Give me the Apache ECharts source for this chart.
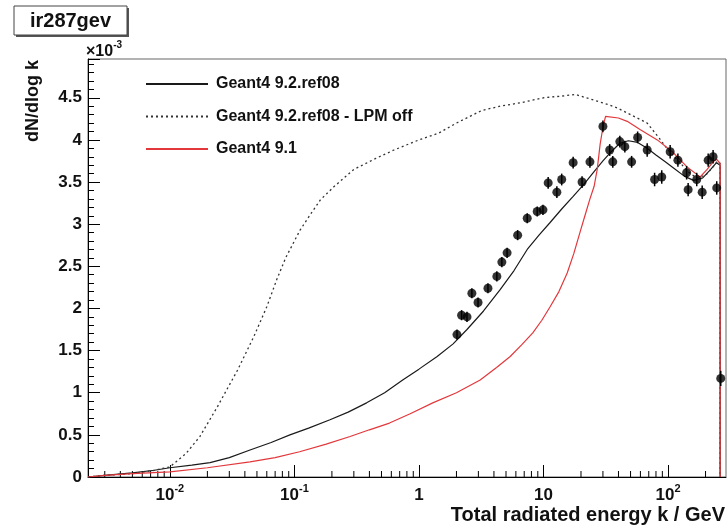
<!DOCTYPE html>
<html>
<head>
<meta charset="utf-8">
<script src="https://cdn.jsdelivr.net/npm/echarts@6/dist/echarts.min.js"></script>
<style>
html,body{margin:0;padding:0;background:#fff;}
#chart{width:728px;height:527px;}
</style>
</head>
<body>
<div id="chart"></div>
<script>
// ---- data (y values in units of 1e-3) ----
const kRef08 = [0.0022,0.003,0.005,0.0075,0.01,0.015,0.021,0.03,0.044,0.065,0.092,0.13,0.193,0.27,0.38,0.53,0.74,1.0,1.4,1.88,2.43,3.3,4.47,5.8,7.4,9.2,11.3,14,17.3,21,25,30,35,41,48,57,68,80,95,112,135,160,190,220,245,262,262];
const vRef08 = [0.0,0.02,0.05,0.08,0.11,0.14,0.17,0.23,0.32,0.41,0.5,0.58,0.68,0.77,0.88,1.0,1.15,1.28,1.43,1.58,1.75,1.97,2.22,2.45,2.7,2.87,3.02,3.18,3.33,3.47,3.61,3.75,3.86,3.96,3.99,3.97,3.9,3.82,3.74,3.66,3.57,3.52,3.55,3.65,3.73,3.7,0];

const kLpmOff = [0.0022,0.003,0.005,0.0075,0.01,0.0135,0.0174,0.024,0.035,0.047,0.06,0.072,0.085,0.111,0.135,0.162,0.206,0.3,0.45,0.63,1.0,1.44,2.0,2.57,3.2,4.5,6.5,10,14,18,22,27,33,39,50,68,85,100,120,145,170,200,230,250,262,262];
const vLpmOff = [0,0.02,0.04,0.08,0.12,0.28,0.48,0.83,1.27,1.66,2.02,2.34,2.6,2.93,3.12,3.29,3.44,3.65,3.78,3.88,4.0,4.08,4.2,4.28,4.35,4.4,4.44,4.5,4.52,4.54,4.5,4.46,4.42,4.38,4.3,4.2,4.02,3.88,3.76,3.62,3.55,3.58,3.68,3.75,3.72,0];

const kG491 = [0.0022,0.003,0.005,0.01,0.02,0.044,0.07,0.11,0.18,0.28,0.4,0.58,0.85,1.29,2.0,3.1,4.2,5.4,6.7,8.2,9.7,11.3,13.3,15.5,17.5,19.6,21.5,23.6,25.5,27,28.5,30,31.5,40,47,60,82,110,142,181,206,230,246,262,262];
const vG491 = [0,0.02,0.04,0.06,0.11,0.18,0.23,0.3,0.39,0.48,0.56,0.64,0.75,0.88,1.0,1.15,1.3,1.43,1.57,1.71,1.86,2.02,2.2,2.42,2.65,2.9,3.1,3.3,3.45,3.65,3.95,4.15,4.28,4.26,4.22,4.12,4.0,3.85,3.68,3.56,3.65,3.74,3.77,3.72,0];

const kData = [2.02,2.2,2.43,2.66,2.98,3.58,4.22,4.63,5.1,6.2,7.4,8.9,9.9,10.9,12.8,14.0,17.3,20.4,23.6,30,34,36,41,45,51,57,68,78,89,104,120,141,145,170,188,210,230,246,265];
const vData = [1.69,1.92,1.9,2.18,2.07,2.24,2.38,2.55,2.66,2.87,3.07,3.15,3.17,3.49,3.38,3.53,3.73,3.5,3.74,4.16,3.88,3.74,3.98,3.92,3.74,4.03,3.88,3.53,3.56,3.86,3.76,3.61,3.41,3.53,3.38,3.76,3.8,3.43,1.17];
const eData = [0.06,0.06,0.06,0.06,0.06,0.06,0.06,0.06,0.06,0.06,0.06,0.06,0.06,0.07,0.07,0.07,0.07,0.07,0.07,0.07,0.07,0.07,0.07,0.07,0.07,0.07,0.08,0.08,0.08,0.08,0.08,0.08,0.08,0.08,0.08,0.08,0.08,0.08,0.09];

const xMajorTicks = [0.01,0.1,1,10,100];
const xMinorTicks = [0.003,0.004,0.005,0.006,0.007,0.008,0.009,
  0.02,0.03,0.04,0.05,0.06,0.07,0.08,0.09,
  0.2,0.3,0.4,0.5,0.6,0.7,0.8,0.9,
  2,3,4,5,6,7,8,9,
  20,30,40,50,60,70,80,90,
  200];
const yTickLabels = ['0','0.5','1','1.5','2','2.5','3','3.5','4','4.5'];

const names = ['Geant4 9.2.ref08','Geant4 9.2.ref08 - LPM off','Geant4 9.1'];

const FONT = 'Liberation Sans, Arial, Helvetica, sans-serif';

function pairs(ks, vs){ return ks.map((k,i)=>[k, vs[i]]); }

const chart = echarts.init(document.getElementById('chart'), null, {renderer:'canvas'});

const option = {
  animation: false,
  backgroundColor: '#fff',
  grid: {left: 88, right: 2, top: 59, bottom: 50, show: true, borderColor: '#666', borderWidth: 1, containLabel: false},
  legend: {
    left: 140, top: 71, orient: 'vertical',
    itemWidth: 62, itemHeight: 14, itemGap: 16.5,
    data: names,
    itemStyle: {opacity: 0},
    textStyle: {fontFamily: FONT, fontWeight: 'bold', fontSize: 16, color: '#111', padding: [0,0,0,3]}
  },
  xAxis: {
    type: 'log', logBase: 10, min: 0.0022, max: 292,
    splitLine: {show: false},
    axisLine: {show: true, lineStyle: {color: '#000', width: 1}},
    axisTick: {show: true, inside: true, length: 12, lineStyle: {color: '#000'}},
    axisLabel: {
      margin: 6, showMinLabel: false, showMaxLabel: false,
      fontFamily: FONT, fontWeight: 'bold', fontSize: 17, color: '#111',
      formatter: function(v){
        const e = Math.round(Math.log10(v));
        if (e === 0) return '{b|1}';
        if (e === 1) return '{b|10}';
        return '{b|10}{s|' + e + '}';
      },
      rich: {
        b: {fontFamily: FONT, fontWeight: 'bold', fontSize: 17, color: '#111', lineHeight: 21, verticalAlign: 'bottom'},
        s: {fontFamily: FONT, fontWeight: 'bold', fontSize: 11, color: '#111', lineHeight: 21, verticalAlign: 'top'}
      }
    }
  },
  yAxis: {
    type: 'value', min: 0, max: 4.96, interval: 0.5,
    splitLine: {show: false},
    axisLine: {show: true, lineStyle: {color: '#000', width: 1}},
    axisTick: {show: true, inside: true, length: 12, lineStyle: {color: '#000'}},
    minorTick: {show: true, splitNumber: 5, length: 6, lineStyle: {color: '#000'}},
    axisLabel: {
      margin: 6, showMaxLabel: false,
      fontFamily: FONT, fontWeight: 'bold', fontSize: 17, color: '#111',
      formatter: function(v){
        const i = Math.round(v / 0.5);
        return yTickLabels[i] !== undefined && Math.abs(v - i*0.5) < 1e-6 ? yTickLabels[i] : '';
      }
    }
  },
  graphic: [
    {type: 'rect', shape: {x: 16, y: 8, width: 113, height: 29}, style: {fill: '#555'}, z: 100},
    {type: 'rect', shape: {x: 14, y: 6, width: 113, height: 29}, style: {fill: '#fff', stroke: '#444', lineWidth: 1}, z: 101},
    {type: 'text', x: 70.5, y: 21, z: 102, style: {text: 'ir287gev', fontFamily: FONT, fontWeight: 'bold', fontSize: 20, fill: '#111', align: 'center', verticalAlign: 'middle'}},
    {type: 'text', x: 86, y: 50, z: 102, style: {
      text: '{b|×10}{s|-3}', align: 'left', verticalAlign: 'middle',
      rich: {
        b: {fontFamily: FONT, fontWeight: 'bold', fontSize: 16, fill: '#111', lineHeight: 19, verticalAlign: 'bottom'},
        s: {fontFamily: FONT, fontWeight: 'bold', fontSize: 10, fill: '#111', lineHeight: 19, verticalAlign: 'top'}
      }}},
    {type: 'text', x: 33, y: 60, rotation: Math.PI/2, z: 102, style: {text: 'dN/dlog k', fontFamily: FONT, fontWeight: 'bold', fontSize: 18, fill: '#111', align: 'right', verticalAlign: 'middle'}},
    {type: 'text', x: 725, y: 515, z: 102, style: {text: 'Total radiated energy k / GeV', fontFamily: FONT, fontWeight: 'bold', fontSize: 20, fill: '#111', align: 'right', verticalAlign: 'middle'}}
  ],
  series: [
    {
      name: names[0], type: 'line', data: pairs(kRef08, vRef08),
      showSymbol: false, symbol: 'none', smooth: false,
      lineStyle: {color: '#1a1a1a', width: 1.2}, itemStyle: {color: '#1a1a1a'}, z: 3
    },
    {
      name: names[1], type: 'line', data: pairs(kLpmOff, vLpmOff),
      showSymbol: false, symbol: 'none', smooth: false,
      lineStyle: {color: '#333', width: 1.3, type: [2, 3]}, itemStyle: {color: '#333'}, z: 3
    },
    {
      name: names[2], type: 'line', data: pairs(kG491, vG491),
      showSymbol: false, symbol: 'none', smooth: false,
      lineStyle: {color: '#e2383c', width: 1.2}, itemStyle: {color: '#e2383c'}, z: 3
    },
    {
      name: 'minorTicks', type: 'custom', silent: true, z: 2,
      data: xMinorTicks.map(k => [k, 0]),
      renderItem: function(params, api){
        const p = api.coord([api.value(0), 0]);
        return {type: 'line', shape: {x1: p[0], y1: p[1], x2: p[0], y2: p[1] - 6}, style: {stroke: '#000', lineWidth: 1}};
      }
    },
    {
      name: 'errors', type: 'custom', silent: true, z: 4,
      data: kData.map((k,i)=>[k, vData[i], eData[i]]),
      renderItem: function(params, api){
        const k = api.value(0), v = api.value(1), e = api.value(2);
        const lo = api.coord([k, v - e]);
        const hi = api.coord([k, v + e]);
        return {type: 'line', shape: {x1: lo[0], y1: lo[1], x2: hi[0], y2: hi[1]}, style: {stroke: '#000', lineWidth: 1.5}};
      }
    },
    {
      name: 'data', type: 'scatter', data: pairs(kData, vData),
      symbol: 'circle', symbolSize: 9, itemStyle: {color: '#000'}, z: 5
    }
  ]
};
chart.setOption(option);
</script>
</body>
</html>
